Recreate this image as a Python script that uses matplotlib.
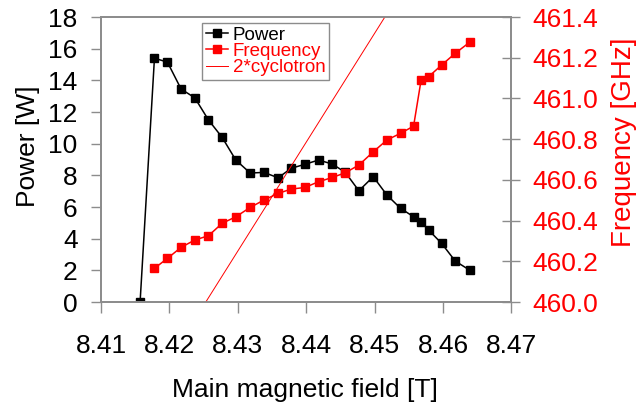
import matplotlib
matplotlib.use("Agg")
import matplotlib.pyplot as plt

plt.rcParams["font.family"] = ["Liberation Sans", "DejaVu Sans"]

# ---- data ----
b_power = [8.4157, 8.4178, 8.4197, 8.4217, 8.4237, 8.4257, 8.4277, 8.4297, 8.4318,
           8.4338, 8.4359, 8.4378, 8.4398, 8.4418, 8.4438, 8.4457, 8.4477, 8.4498,
           8.4518, 8.4538, 8.4557, 8.4568, 8.4579, 8.4598, 8.4618, 8.4639]
power = [0.0, 15.4, 15.15, 13.45, 12.9, 11.5, 10.4, 8.97, 8.15,
         8.19, 7.85, 8.45, 8.7, 8.97, 8.72, 8.2, 7.03, 7.92,
         6.76, 5.92, 5.39, 5.08, 4.55, 3.71, 2.59, 2.02]

b_freq = [8.4178, 8.4197, 8.4217, 8.4237, 8.4257, 8.4277, 8.4297, 8.4318,
          8.4338, 8.4359, 8.4378, 8.4398, 8.4418, 8.4438, 8.4457, 8.4477,
          8.4498, 8.4518, 8.4538, 8.4557, 8.4568, 8.4579, 8.4598, 8.4618, 8.4639]
freq = [460.166, 460.215, 460.269, 460.305, 460.326, 460.387, 460.419, 460.465,
        460.501, 460.534, 460.555, 460.563, 460.591, 460.612, 460.635, 460.673,
        460.738, 460.796, 460.829, 460.864, 461.090, 461.107, 461.164, 461.222, 461.276]

b_cyc = [8.4253, 8.4515]
f_cyc = [460.0, 461.4]

RED = "#ff0000"
SPINE = "#8c8c8c"
FS = 19

fig = plt.figure(figsize=(6.36, 4.05), dpi=100)
ax = fig.add_axes([0.159, 0.254, 0.645, 0.704])
ax2 = ax.twinx()

l1, = ax.plot(b_power, power, "s-", color="black", lw=1.1, ms=6)
l2, = ax2.plot(b_freq, freq, "s-", color=RED, lw=1.1, ms=6)
l3, = ax2.plot(b_cyc, f_cyc, "-", color=RED, lw=0.7)

ax.set_xlim(8.41, 8.47)
ax.set_ylim(0, 18)
ax2.set_ylim(460.0, 461.4)
ax.set_xticks([8.41, 8.42, 8.43, 8.44, 8.45, 8.46, 8.47])
ax.set_yticks(range(0, 19, 2))
ax2.set_yticks([460.0, 460.2, 460.4, 460.6, 460.8, 461.0, 461.2, 461.4])
ax2.set_yticklabels([f"{v:.1f}" for v in ax2.get_yticks()])

for a in (ax, ax2):
    for s in a.spines.values():
        s.set_color(SPINE)
        s.set_linewidth(1.3)

ax.tick_params(axis="x", direction="out", length=8, width=1.0, color=SPINE,
               labelsize=FS, pad=15)
ax.tick_params(axis="y", direction="out", length=7, width=1.0, color=SPINE,
               labelsize=FS, pad=10)
ax2.tick_params(axis="y", direction="inout", length=13, width=1.0, color=SPINE,
                labelsize=FS, labelcolor=RED, pad=9)

ax.set_xlabel("Main magnetic field [T]", fontsize=FS)
ax.xaxis.set_label_coords(0.496, -0.266)
ax.set_ylabel("Power [W]", fontsize=FS)
ax.yaxis.set_label_coords(-0.148, 0.545)
ax2.set_ylabel("Frequency [GHz]", fontsize=FS + 1, color=RED)
ax2.yaxis.set_label_coords(1.243, 0.56)

leg = ax2.legend([l1, l2, l3], ["Power", "Frequency", "2*cyclotron"],
                 loc="upper left", bbox_to_anchor=(0.246, 0.979), borderaxespad=0,
                 fontsize=13.5, handlelength=1.2, handletextpad=0.25, labelspacing=-0.05,
                 borderpad=0.2, fancybox=False, framealpha=1)
leg.get_frame().set_edgecolor(SPINE)
leg.get_frame().set_linewidth(1.0)
for t, c in zip(leg.get_texts(), ["black", RED, RED]):
    t.set_color(c)

fig.savefig("out.png", dpi=100)
